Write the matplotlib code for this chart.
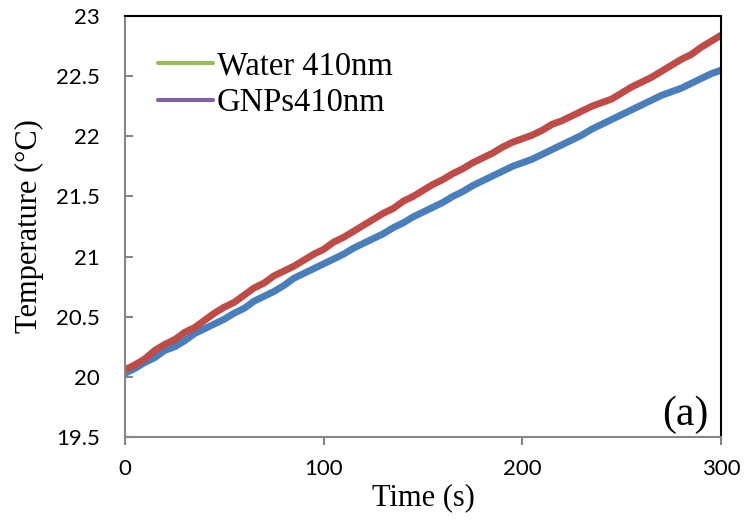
import matplotlib
matplotlib.use('Agg')
import numpy as np
from matplotlib import pyplot as plt
from matplotlib.lines import Line2D

# time axis, seconds
time_s = np.arange(0, 301, 5)

gnps_temp = [20.06, 20.10, 20.15, 20.22, 20.27, 20.31, 20.37, 20.41, 20.47, 20.53,
             20.58, 20.62, 20.68, 20.74, 20.78, 20.84, 20.88, 20.92, 20.97, 21.02,
             21.06, 21.12, 21.16, 21.21, 21.26, 21.31, 21.36, 21.40, 21.46, 21.50,
             21.55, 21.60, 21.64, 21.69, 21.73, 21.78, 21.82, 21.86, 21.91, 21.95,
             21.98, 22.01, 22.05, 22.10, 22.13, 22.17, 22.21, 22.25, 22.28, 22.31,
             22.36, 22.41, 22.45, 22.49, 22.54, 22.59, 22.64, 22.68, 22.74, 22.79,
             22.84]

water_temp = [20.03, 20.07, 20.12, 20.16, 20.22, 20.25, 20.30, 20.36, 20.40, 20.44,
              20.48, 20.53, 20.57, 20.63, 20.67, 20.71, 20.76, 20.82, 20.86, 20.90,
              20.94, 20.98, 21.02, 21.07, 21.11, 21.15, 21.19, 21.24, 21.28, 21.33,
              21.37, 21.41, 21.45, 21.50, 21.54, 21.59, 21.63, 21.67, 21.71, 21.75,
              21.78, 21.81, 21.85, 21.89, 21.93, 21.97, 22.01, 22.06, 22.10, 22.14,
              22.18, 22.22, 22.26, 22.30, 22.34, 22.37, 22.40, 22.44, 22.48, 22.52,
              22.55]

legend_labels = ['Water 410nm', 'GNPs410nm']
legend_colors = ['#9BBB59', '#8064A2']

xticks = [0, 100, 200, 300]
yticks = [19.5, 20, 20.5, 21, 21.5, 22, 22.5, 23]

fig = plt.figure(figsize=(7.45, 5.22), dpi=100)
ax = fig.add_axes([0.1678, 0.1628, 0.8000, 0.8065])

ax.plot(time_s, water_temp, color='#4A7EBB', lw=5, solid_capstyle='round')
ax.plot(time_s, gnps_temp, color='#BE4B48', lw=5, solid_capstyle='round')

ax.set_xlim(0, 300)
ax.set_ylim(19.5, 23)
ax.set_xticks(xticks)
ax.set_yticks(yticks)
ax.set_xticklabels([str(t) for t in xticks])
ax.set_yticklabels(['%g' % t for t in yticks])

for lab in ax.get_xticklabels() + ax.get_yticklabels():
    lab.set_fontfamily('Lato')
    lab.set_fontsize(16)

ax.tick_params(axis='y', direction='in', length=6, width=1.5, color='#868686', pad=18)
ax.tick_params(axis='x', direction='out', length=6, width=1.5, color='#868686', pad=10)

for side in ['left', 'bottom']:
    ax.spines[side].set_color('#868686')
    ax.spines[side].set_linewidth(1.5)
for side in ['top', 'right']:
    ax.spines[side].set_color('black')
    ax.spines[side].set_linewidth(1.5)

ax.set_xlabel('Time (s)', family='Liberation Serif', fontsize=22, va='center')
ax.xaxis.set_label_coords(0.5, -0.143)
ax.set_ylabel('Temperature (\u00b0C)', family='Liberation Serif', fontsize=22, va='center')
ax.yaxis.set_label_coords(-0.16, 0.5)

ax.text(0.94, 0.052, '(a)', transform=ax.transAxes, family='Liberation Serif',
        fontsize=30, ha='center', va='center')

handles = [Line2D([], [], color=c, lw=3, solid_capstyle='round') for c in legend_colors]
ax.legend(handles, legend_labels, loc='upper left', bbox_to_anchor=(0.055, 0.918),
          frameon=False, handlelength=1.68, handletextpad=0.12, labelspacing=0.2,
          borderpad=0, borderaxespad=0,
          prop={'family': 'Liberation Serif', 'size': 23.5})

fig.savefig('out.png', dpi=100)
